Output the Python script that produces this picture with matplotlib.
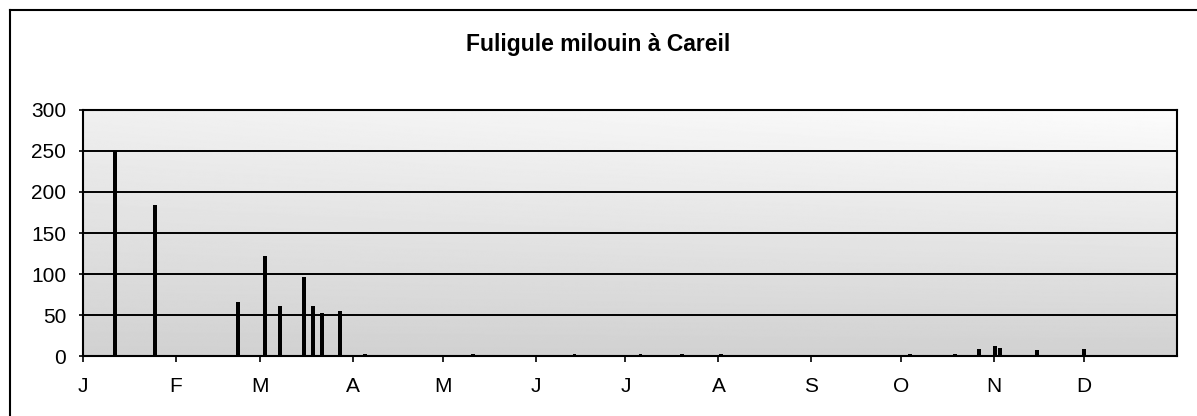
#!/usr/bin/env python3
import matplotlib.pyplot as plt
import numpy as np
from matplotlib.lines import Line2D

plt.rcParams["font.family"] = ["Liberation Sans", "DejaVu Sans"]

title = "Fuligule milouin à Careil"
months = ["J", "F", "M", "A", "M", "J", "J", "A", "S", "O", "N", "D"]
month_starts = [0, 31, 59, 90, 120, 151, 181, 212, 243, 273, 304, 334]
year_len = 365

# counts (day of year, birds counted)
days = [10.8, 23.9, 51.7, 60.6, 65.7, 73.6, 76.7, 79.7, 85.8, 94,
        130, 164, 186, 200, 213, 276, 291, 298.8, 304.2, 306, 318.2, 334.1]
counts = [250, 184, 66, 122, 61, 96, 61, 53, 55, 3,
          2, 2, 2, 3, 2, 2, 2, 8, 12, 10, 7, 8]

fig = plt.figure(figsize=(11.97, 4.16), dpi=100)
ax = fig.add_axes([0.0693, 0.1442, 0.914, 0.5914])

# stippled grey plot area: darker near the bottom and on the left
yy, xx = np.mgrid[0:1:300j, 0:1:600j]
shade = 0.82 + 0.12 * yy + 0.05 * xx * yy
ax.imshow(shade, cmap="gray", vmin=0, vmax=1, aspect="auto", origin="lower",
          extent=(0, year_len, 0, 300), zorder=0, interpolation="bilinear")

ax.bar(days, counts, width=1.3, color="black", zorder=3)

ax.set_xlim(0, year_len)
ax.set_ylim(0, 300)
ax.set_yticks(range(0, 301, 50))
ax.set_xticks(month_starts)
ax.set_xticklabels(months)
ax.yaxis.grid(True, color="black", linewidth=1.4, zorder=2)
ax.set_axisbelow(False)
ax.tick_params(axis="y", labelsize=15, length=3, pad=9, width=1.2)
ax.tick_params(axis="x", labelsize=15, length=4, pad=11, width=1.2)
for s in ax.spines.values():
    s.set_linewidth(1.5)
    s.set_zorder(4)

fig.text(0.5, 0.893, title, ha="center", va="center", fontsize=16.5,
         fontweight="bold")

# outer frame of the scanned chart (left and top edges)
fig.add_artist(Line2D([0.0084, 0.0084], [0.0, 0.975], color="black", lw=1.5))
fig.add_artist(Line2D([0.0084, 1.0], [0.975, 0.975], color="black", lw=1.5))

fig.savefig("out.png", dpi=100)
